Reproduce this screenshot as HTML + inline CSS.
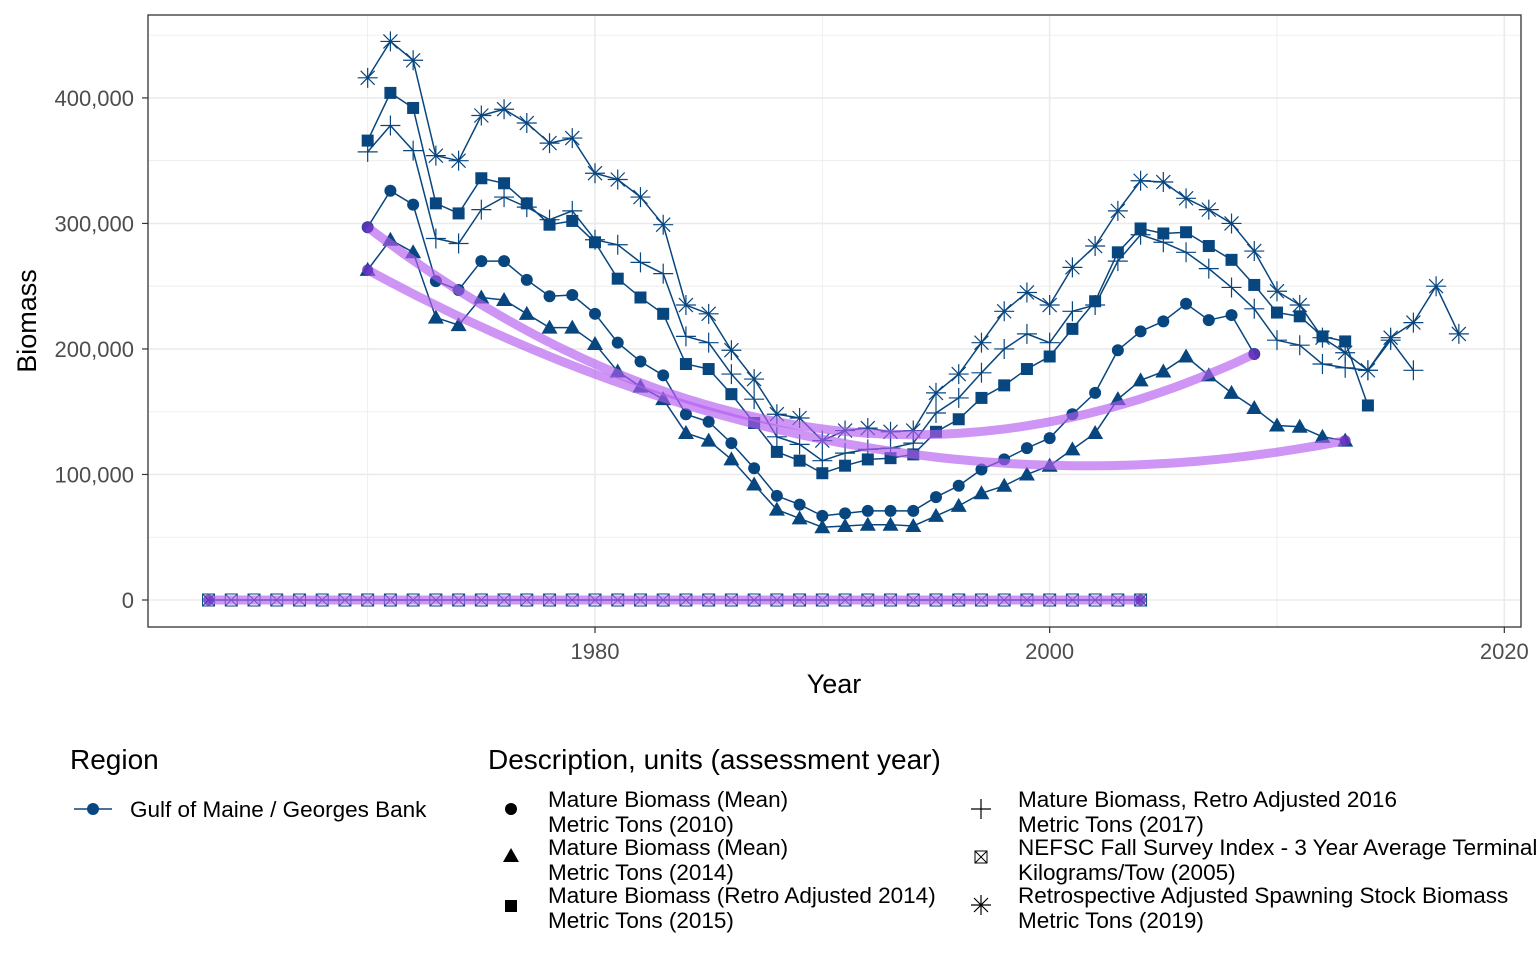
<!DOCTYPE html>
<html><head><meta charset="utf-8"><style>
body{margin:0;background:#fff;width:1536px;height:960px;overflow:hidden;font-family:"Liberation Sans",sans-serif}
svg text{font-family:"Liberation Sans",sans-serif}
</style></head><body>
<svg id="chart" width="1536" height="960" xmlns="http://www.w3.org/2000/svg">
<g id="grid"></g>
<g id="series"></g>
<rect x="148" y="15" width="1373" height="612" fill="none" stroke="#333" stroke-width="1.3"/>
<g id="axes"></g>
<text x="834" y="693" font-size="27" text-anchor="middle">Year</text>
<text transform="translate(36,321) rotate(-90)" font-size="27" text-anchor="middle">Biomass</text>
<g font-size="22.5">
<text x="70" y="769" font-size="28">Region</text>
<g>
<line x1="74" y1="809" x2="112" y2="809" stroke="#08467f" stroke-width="1.5"/><circle cx="93" cy="809" r="6" fill="#08467f"/>
<text x="130" y="817">Gulf of Maine / Georges Bank</text></g>
<text x="488" y="769" font-size="28">Description, units (assessment year)</text>
<g><circle cx="511" cy="809" r="6"/><text x="548" y="807">Mature Biomass (Mean)</text><text x="548" y="832">Metric Tons (2010)</text></g>
<g><polygon points="511,848 519,862 503,862"/><text x="548" y="855">Mature Biomass (Mean)</text><text x="548" y="880">Metric Tons (2014)</text></g>
<g><rect x="505" y="900" width="12" height="12"/><text x="548" y="903">Mature Biomass (Retro Adjusted 2014)</text><text x="548" y="928">Metric Tons (2015)</text></g>
<g><path d="M971,809h20M981,799v20" stroke="#000" stroke-width="1.2"/><text x="1018" y="807">Mature Biomass, Retro Adjusted 2016</text><text x="1018" y="832">Metric Tons (2017)</text></g>
<g><rect x="975" y="851" width="12" height="12" fill="none" stroke="#000"/><path d="M975,851l12,12M987,851l-12,12" stroke="#000"/><text x="1018" y="855">NEFSC Fall Survey Index - 3 Year Average Terminal</text><text x="1018" y="880">Kilograms/Tow (2005)</text></g>
<g><path d="M971,905h20M981,895v20M974,898l14,14M988,898l-14,14" stroke="#000" stroke-width="1.2"/><text x="1018" y="903">Retrospective Adjusted Spawning Stock Biomass</text><text x="1018" y="928">Metric Tons (2019)</text></g>
</g>
</svg>
<script>
const mean2010 = [297,326,315,254,247,270,270,255,242,243,228,205,190,179,148,142,125,105,83,76,67,69,71,71,71,82,91,104,112,121,129,148,165,199,214,222,236,223,227,196];
const mean2014 = [263,287,277,225,219,241,239,228,217,217,204,182,170,160,133,127,112,92,72,65,58,59,60,60,59,67,75,85,91,100,107,120,133,160,175,182,194,179,165,153,139,138,130,127];
const retro2015 = [366,404,392,316,308,336,332,316,299,302,285,256,241,228,188,184,164,141,118,111,101,107,112,113,116,134,144,161,171,184,194,216,238,277,296,292,293,282,271,251,229,226,210,206,155];
const retro2017 = [357,378,358,288,284,311,321,313,303,310,287,283,269,260,210,205,180,160,130,124,111,117,120,121,125,149,161,181,200,212,205,230,235,270,291,285,277,264,249,232,207,203,188,185,183,207,183];
const ssb2019 = [416,445,430,354,350,386,391,380,364,368,340,335,321,299,235,228,199,176,148,145,127,135,137,134,135,165,180,205,230,245,235,265,282,310,334,333,320,311,300,278,246,235,209,197,183,209,221,250,212];
const nefscStart = 1963;
const nefsc2005 = new Array(42).fill(0.0005);
const trend2010Years = [1970,1993,2009];
const trend2010Values = [297,132,196];
const trend2014Years = [1970,2001,2013];
const trend2014Values = [263,107,127];
const trendNefscYears = [1963,1983,2004];
const trendNefscValues = [0,0,0];
const xTicks = [1980,2000,2020];
const yTicks = [0,100000,200000,300000,400000];
const yTickLabels = ["0","100,000","200,000","300,000","400,000"];

const X = y => 595 + (y-1980)*22.733;
const Y = v => 600 - v*0.0012552;
const NS="http://www.w3.org/2000/svg";
function mk(tag,attrs,parent){const e=document.createElementNS(NS,tag);for(const k in attrs)e.setAttribute(k,attrs[k]);parent.appendChild(e);return e;}
const grid=document.getElementById('grid'), ser=document.getElementById('series'), axes=document.getElementById('axes');
mk('rect',{x:148,y:15,width:1373,height:612,fill:'#fff'},grid);
for(let v=-50000;v<=450000;v+=50000){const yy=Y(v);if(yy<15||yy>627)continue;
 const l=mk('line',{x1:148,x2:1521,y1:yy,y2:yy,stroke:'#ebebeb','stroke-width':v%100000===0?1.6:0.8},grid);
 
 }
for(let yr=1960;yr<=2020;yr+=10){const xx=X(yr);if(xx<148||xx>1521)continue;
 const l=mk('line',{x1:xx,x2:xx,y1:15,y2:627,stroke:'#ebebeb','stroke-width':yr%20===0?1.6:0.8},grid);
 
 }
yTicks.forEach((v,i)=>{const yy=Y(v);
 mk('line',{x1:142,x2:148,y1:yy,y2:yy,stroke:'#333','stroke-width':1.2},axes);
 const t=mk('text',{x:134,y:yy+8,'font-size':22,'text-anchor':'end',fill:'#4d4d4d'},axes);t.textContent=yTickLabels[i];
 
 });
xTicks.forEach(v=>{const xx=X(v);
 mk('line',{x1:xx,x2:xx,y1:627,y2:633,stroke:'#333','stroke-width':1.2},axes);
 const t=mk('text',{x:xx,y:659,'font-size':22,'text-anchor':'middle',fill:'#4d4d4d'},axes);t.textContent=v;
 
 });

const C='#08467f';
function marker(kind,x,y,g){
 if(kind==='circle')mk('circle',{cx:x,cy:y,r:6,fill:C},g);
 else if(kind==='tri')mk('polygon',{points:`${x},${y-8} ${x+8},${y+6} ${x-8},${y+6}`,fill:C},g);
 else if(kind==='square')mk('rect',{x:x-6,y:y-6,width:12,height:12,fill:C},g);
 else if(kind==='plus')mk('path',{d:`M${x-10},${y}h20M${x},${y-10}v20`,stroke:C,'stroke-width':1.2,fill:'none'},g);
 else if(kind==='star')mk('path',{d:`M${x-10},${y}h20M${x},${y-10}v20M${x-7},${y-7}l14,14M${x+7},${y-7}l-14,14`,stroke:C,'stroke-width':1.2,fill:'none'},g);
 else if(kind==='boxx')mk('path',{d:`M${x-6},${y-6}h12v12h-12zM${x-6},${y-6}l12,12M${x+6},${y-6}l-12,12`,stroke:C,'stroke-width':1,fill:'none'},g);
}
function series(name,start,vals,scale,kind){
 const g=mk('g',{},ser);
 
 
 const pts=vals.map((v,i)=>[X(start+i),Y(v*scale)]);
 mk('polyline',{points:pts.map(p=>p.join(',')).join(' '),fill:'none',stroke:C,'stroke-width':1.5},g);
 pts.forEach(p=>marker(kind,p[0],p[1],g));
}
function trend(name,yrs,vals,scale){
 // quadratic through three (year,value) points (Lagrange)
 const f=x=>{let s=0;for(let i=0;i<3;i++){let p=vals[i]*scale;for(let j=0;j<3;j++)if(j!==i)p*=(x-yrs[j])/(yrs[i]-yrs[j]);s+=p;}return s;};
 const g=mk('g',{},ser);
 
 
 const a=yrs[0],b=yrs[2];
 let d='';for(let t=0;t<=100;t++){const x=a+(b-a)*t/100;d+=(t?'L':'M')+X(x).toFixed(1)+','+Y(f(x)).toFixed(1);}
 mk('path',{d,fill:'none',stroke:'#b35cf0','stroke-opacity':0.65,'stroke-width':9},g);
 [a,b].forEach(x=>mk('circle',{cx:X(x),cy:Y(f(x)),r:5.5,fill:'#6a2fc0','fill-opacity':0.8},g));
}
series('series-ssb-2019',1970,ssb2019,1000,'star');
series('series-retro-2017',1970,retro2017,1000,'plus');
series('series-retro-2015',1970,retro2015,1000,'square');
series('series-mean-2010',1970,mean2010,1000,'circle');
series('series-mean-2014',1970,mean2014,1000,'tri');
series('series-nefsc-2005',nefscStart,nefsc2005,1,'boxx');
trend('trend-mean-2010',trend2010Years,trend2010Values,1000);
trend('trend-mean-2014',trend2014Years,trend2014Values,1000);
trend('trend-nefsc-2005',trendNefscYears,trendNefscValues,1);
</script>
</body></html>
